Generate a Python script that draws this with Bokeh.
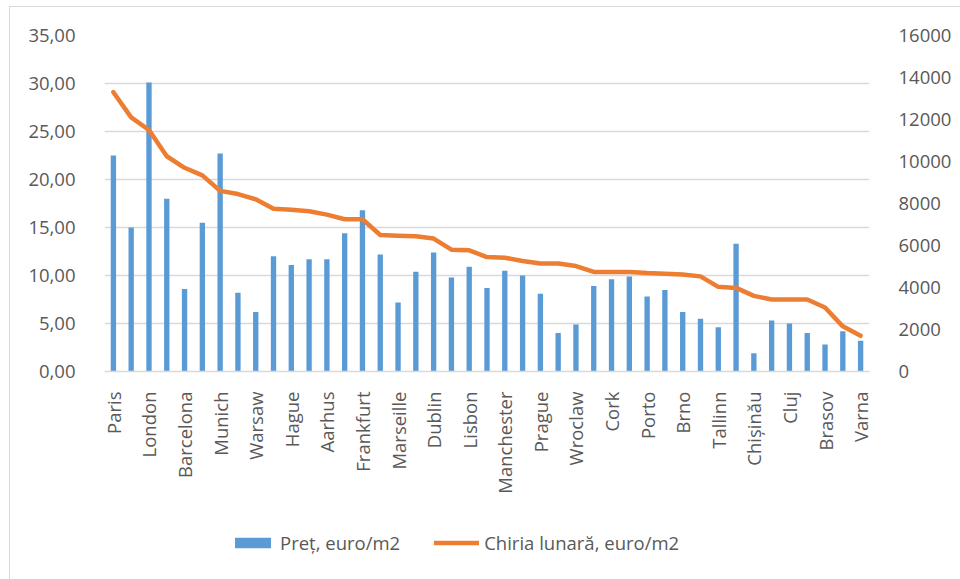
from bokeh.plotting import figure
from bokeh.layouts import column
from bokeh.models import (LinearAxis, Range1d, FixedTicker, Legend, LegendItem,
                          ColumnDataSource)
from bokeh.embed import file_html
from bokeh.resources import INLINE
import math

# Every other city is labelled on the category axis
cities = ["Paris", "London", "Barcelona", "Munich", "Warsaw", "Hague", "Aarhus",
          "Frankfurt", "Marseille", "Dublin", "Lisbon", "Manchester", "Prague",
          "Wroclaw", "Cork", "Porto", "Brno", "Tallinn", "Chișinău", "Cluj",
          "Brasov", "Varna"]

# Price, euro/m2 (left axis)
price = [22.5, 15.0, 30.1, 18.0, 8.6, 15.5, 22.7, 8.2, 6.2, 12.0,
         11.1, 11.7, 11.7, 14.4, 16.8, 12.2, 7.2, 10.4, 12.4, 9.8,
         10.9, 8.7, 10.5, 10.0, 8.1, 4.0, 4.9, 8.9, 9.6, 9.9,
         7.8, 8.5, 6.2, 5.5, 4.6, 13.3, 1.9, 5.3, 5.0, 4.0,
         2.8, 4.2, 3.2]

# Monthly rent (right axis)
rent = [13300, 12100, 11500, 10250, 9700, 9340, 8600, 8450, 8200, 7750,
        7700, 7630, 7470, 7250, 7250, 6500, 6470, 6440, 6330, 5800,
        5770, 5450, 5420, 5260, 5140, 5140, 5020, 4740, 4740, 4740,
        4690, 4660, 4620, 4530, 4030, 3980, 3600, 3430, 3430, 3430,
        3050, 2150, 1700]

left_ticks = [0, 5, 10, 15, 20, 25, 30, 35]
left_tick_labels = ["0,00", "5,00", "10,00", "15,00", "20,00", "25,00", "30,00", "35,00"]
right_ticks = [0, 2000, 4000, 6000, 8000, 10000, 12000, 14000, 16000]

series_names = ["Preț, euro/m2", "Chiria lunară, euro/m2"]

FONT = "Open Sans"
FS = "18.5px"
TXT = "#595959"
GRID = "#D9D9D9"
BLUE = "#5B9BD5"
ORANGE = "#ED7D31"

W = 950
H_CHART = 500
H_LEGEND = 72

idx = list(range(len(price)))
src = ColumnDataSource(dict(x=idx, price=price, rent=rent))


def add_series(fig, y_range_name="default"):
    bar_r = fig.vbar(x="x", top="price", width=0.3, source=src, fill_color=BLUE,
                     line_color=None)
    line_r = fig.line(x="x", y="rent", source=src, y_range_name=y_range_name,
                      line_color=ORANGE, line_width=4.5, line_join="round",
                      line_cap="round")
    return bar_r, line_r


p = figure(width=W, height=H_CHART, output_backend="svg", toolbar_location=None,
           x_range=Range1d(-0.5, len(price) - 0.5), y_range=Range1d(0, 35))
p.min_border_left = 94
p.min_border_right = 91
p.min_border_top = 28
p.min_border_bottom = H_CHART - 28 - 336
p.outline_line_color = None
p.background_fill_color = "white"
p.border_fill_color = "white"

p.extra_y_ranges = {"rent": Range1d(0, 16000)}
add_series(p, "rent")

# Left axis
yax = p.yaxis[0]
yax.ticker = FixedTicker(ticks=left_ticks)
yax.major_label_overrides = dict(zip(left_ticks, left_tick_labels))
yax.axis_line_color = None
yax.major_tick_line_color = None
yax.minor_tick_line_color = None
yax.major_label_standoff = 23
yax.major_label_text_font = FONT
yax.major_label_text_font_size = FS
yax.major_label_text_color = TXT

# Right axis
rax = LinearAxis(y_range_name="rent", ticker=FixedTicker(ticks=right_ticks))
rax.axis_line_color = None
rax.major_tick_line_color = None
rax.minor_tick_line_color = None
rax.major_label_standoff = 23
rax.major_label_text_font = FONT
rax.major_label_text_font_size = FS
rax.major_label_text_color = TXT
p.add_layout(rax, "right")

# Category axis
xax = p.xaxis[0]
even = list(range(0, len(price), 2))
xax.ticker = FixedTicker(ticks=even)
xax.major_label_overrides = dict(zip(even, cities))
xax.major_label_orientation = math.pi / 2
xax.axis_line_color = GRID
xax.axis_line_width = 1.3
xax.major_tick_line_color = None
xax.minor_tick_line_color = None
xax.major_label_standoff = 14
xax.major_label_text_font = FONT
xax.major_label_text_font_size = FS
xax.major_label_text_color = TXT

p.xgrid.grid_line_color = None
p.ygrid.grid_line_color = GRID
p.ygrid.grid_line_width = 1.3

# Legend strip underneath the chart: same series, with ranges that keep the
# marks out of view, so only their legend keys show
lg = figure(width=W, height=H_LEGEND, output_backend="svg", toolbar_location=None,
            x_range=Range1d(1000, 2000), y_range=Range1d(100000, 100100),
            x_axis_location=None, y_axis_location=None, min_border=0)
lg.outline_line_color = None
lg.grid.grid_line_color = None
lg.background_fill_color = "white"
lg.border_fill_color = "white"
key_bar, key_line = add_series(lg)

legend = Legend(items=[LegendItem(label=series_names[0], renderers=[key_bar]),
                       LegendItem(label=series_names[1], renderers=[key_line])],
                orientation="horizontal", location=(126, 24))
legend.border_line_color = None
legend.background_fill_alpha = 0
legend.padding = 0
legend.margin = 0
legend.spacing = 34
legend.glyph_width = 45
legend.glyph_height = 13
legend.label_standoff = 5
legend.label_text_font = FONT
legend.label_text_font_size = FS
legend.label_text_color = TXT
lg.add_layout(legend, "center")

page = column(p, lg, spacing=0)
# chart-area border on the top and left edges
page.styles = {"margin-left": "9px", "margin-top": "6px",
               "border-left": "1px solid #D9D9D9", "border-top": "1px solid #D9D9D9"}

open("out.html", "w").write(file_html(page, INLINE))
